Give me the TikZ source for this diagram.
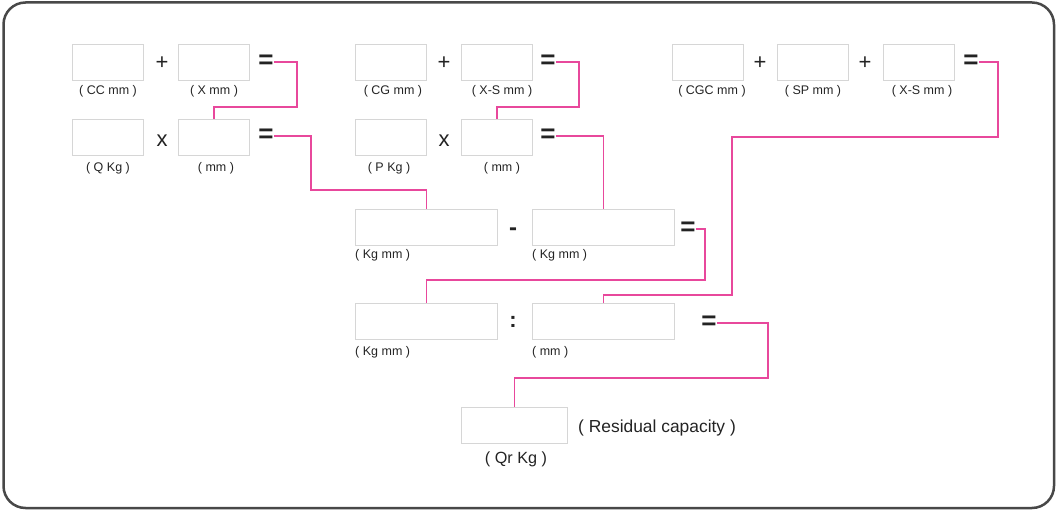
\documentclass[tikz,border=0pt]{standalone}
\usepackage{fontspec}
\setmainfont{Liberation Sans}
\definecolor{pinkline}{RGB}{232,72,156}
\definecolor{boxgray}{RGB}{214,214,214}
\definecolor{framegray}{RGB}{72,72,72}
\definecolor{txt}{RGB}{35,35,35}
\begin{document}
\begin{tikzpicture}[x=1pt,y=-1pt,
  inbox/.style={draw=boxgray,line width=1pt,inner sep=0pt,minimum height=36pt,anchor=north west},
  sbox/.style={inbox,minimum width=71pt},
  wbox/.style={inbox,minimum width=142pt},
  lbl/.style={inner sep=0pt,text=txt,font=\fontsize{12.5}{13}\selectfont},
  op/.style={inner sep=0pt,text=txt,font=\fontsize{22}{22}\selectfont},
  eq/.style={inner sep=0pt,text=txt,font=\fontsize{26}{26}\bfseries},
  conn/.style={draw=pinkline,line width=1.2pt}]
\useasboundingbox (0,0) rectangle (1057,510);
\draw[framegray,line width=2.5pt,rounded corners=22pt] (3.5,2.5) rectangle (1054,508);
% column 1
\node[sbox] (a1) at (72,44) {};
\node[sbox] (a2) at (178,44) {};
\node[op] (pa) at (162,63) {+};
\node[eq] (ea) at (266,62) {=};
\node[lbl] (la1) at (108,91) {( CC mm )};
\node[lbl] (la2) at (214,91) {( X mm )};
\node[sbox] (b1) at (72,119) {};
\node[sbox] (b2) at (178,119) {};
\node[op] (xb) at (162,141) {x};
\node[eq] (eb) at (266,136) {=};
\node[lbl] (lb1) at (108,168) {( Q Kg )};
\node[lbl] (lb2) at (216,168) {( mm )};
% column 2
\node[sbox] (c1) at (355,44) {};
\node[sbox] (c2) at (461,44) {};
\node[op] (pc) at (444,63) {+};
\node[eq] (ec) at (548,62) {=};
\node[lbl] (lc1) at (393,91) {( CG mm )};
\node[lbl] (lc2) at (502,91) {( X-S mm )};
\node[sbox] (d1) at (355,119) {};
\node[sbox] (d2) at (461,119) {};
\node[op] (xd) at (444,141) {x};
\node[eq] (ed) at (548,136) {=};
\node[lbl] (ld1) at (389,168) {( P Kg )};
\node[lbl] (ld2) at (502,168) {( mm )};
% column 3
\node[sbox] (e1) at (672,44) {};
\node[sbox] (e2) at (777,44) {};
\node[sbox] (e3) at (883,44) {};
\node[op] (pe1) at (760,63) {+};
\node[op] (pe2) at (865,63) {+};
\node[eq] (ee) at (971,62) {=};
\node[lbl] (le1) at (712,91) {( CGC mm )};
\node[lbl] (le2) at (813,91) {( SP mm )};
\node[lbl] (le3) at (922,91) {( X-S mm )};
% row 3
\node[wbox] (f1) at (355,209) {};
\node[wbox] (f2) at (532,209) {};
\node[op,font=\fontsize{24}{24}\bfseries] (mf) at (513,232) {-};
\node[eq] (ef) at (688,229) {=};
\node[lbl,anchor=west] (lf1) at (355,255) {( Kg mm )};
\node[lbl,anchor=west] (lf2) at (532,255) {( Kg mm )};
% row 4
\node[wbox] (g1) at (355,303) {};
\node[wbox] (g2) at (532,303) {};
\node[op,font=\fontsize{22}{22}\bfseries] (cg) at (513,322) {:};
\node[eq] (eg) at (709,323) {=};
\node[lbl,anchor=west] (lg1) at (355,352) {( Kg mm )};
\node[lbl,anchor=west] (lg2) at (532,352) {( mm )};
% result
\node[inbox,minimum width=106pt] (r) at (461,407) {};
\node[lbl,anchor=west,font=\fontsize{17.4}{18}\selectfont] (lr) at (578,428) {( Residual capacity )};
\node[lbl,font=\fontsize{16.2}{17}\selectfont] (lq) at (516,459) {( Qr Kg )};
% connectors
\draw[conn] (ea.east) -| (297,107) -| (b2.north);
\draw[conn] (eb.east) -| (311,190) -| (f1.north);
\draw[conn] (ec.east) -| (579,107) -| (d2.north);
\draw[conn] (ed.east) -| (f2.north);
\draw[conn] (ee.east) -| (998,137) -| (732,295) -| (g2.north);
\draw[conn] (ef.east) -| (705,280) -| (g1.north);
\draw[conn] (eg.east) -| (768,378) -| (r.north);
\end{tikzpicture}
\end{document}
